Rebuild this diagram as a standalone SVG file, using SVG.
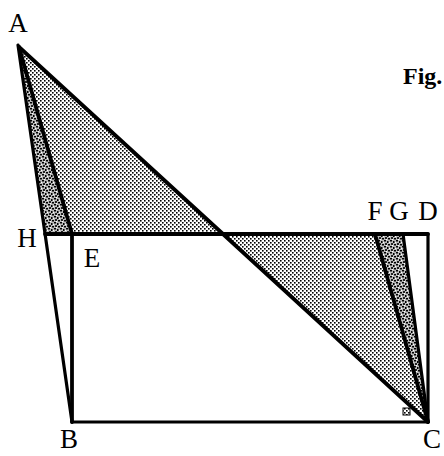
<svg xmlns="http://www.w3.org/2000/svg" width="444" height="456" viewBox="0 0 444 456">
<style>
.ln{stroke:#000;stroke-width:3.8;fill:none;stroke-linecap:round;stroke-linejoin:round}
.th{stroke-width:3.2}
.lbl{font-family:"Liberation Serif","Times New Roman",serif;font-size:27px;fill:#000}
.fig{font-family:"Liberation Serif","Times New Roman",serif;font-size:24px;font-weight:bold;fill:#000}
</style>
<defs>
<pattern id="dots" width="4" height="4" patternUnits="userSpaceOnUse">
<rect width="4" height="4" fill="#fff"/>
<rect x="0" y="0" width="1.6" height="1.6" fill="#000"/>
<rect x="2" y="2" width="1.6" height="1.6" fill="#000"/>
</pattern>
<pattern id="dark" width="6" height="6" patternUnits="userSpaceOnUse">
<rect width="6" height="6" fill="#bbb"/>
<rect x="0" y="0" width="2" height="1.5" fill="#000"/>
<rect x="3" y="1" width="1.5" height="2" fill="#000"/>
<rect x="1" y="3" width="2" height="2" fill="#222"/>
<rect x="4" y="4" width="2" height="1.5" fill="#000"/>
<rect x="5" y="2" width="1" height="1" fill="#fff"/>
<rect x="2" y="5" width="1" height="1" fill="#fff"/>
</pattern>
</defs>
<g id="shading">
<polygon points="19,47 72,234 223,234" fill="url(#dots)"/>
<polygon points="223,234 375,234 428,422" fill="url(#dots)"/>
<polygon points="19,47 45.4,234 72,234" fill="url(#dark)"/>
<polygon points="375,234 403,234 428,422" fill="url(#dark)"/>
<rect x="403" y="408" width="7" height="7" fill="url(#dots)" stroke="#000" stroke-width="1"/>
</g>
<g id="connectors">
<line class="ln th" x1="18" y1="45" x2="72" y2="422"/>
<line class="ln" x1="19" y1="47" x2="72" y2="234"/>
<line class="ln" x1="19" y1="47" x2="428" y2="422"/>
<line class="ln" x1="45" y1="234" x2="428" y2="234"/>
<line class="ln" x1="72" y1="234" x2="72" y2="422"/>
<line class="ln th" x1="72" y1="422" x2="428" y2="422"/>
<line class="ln th" x1="428" y1="234" x2="428" y2="422"/>
<line class="ln" x1="375" y1="234" x2="428" y2="422"/>
<line class="ln th" x1="403" y1="234" x2="428" y2="422"/>
</g>
<g id="labels">
<text class="lbl" x="18" y="32" text-anchor="middle">A</text>
<text class="lbl" x="27" y="247" text-anchor="middle">H</text>
<text class="lbl" x="92" y="267" text-anchor="middle">E</text>
<text class="lbl" x="69" y="448" text-anchor="middle">B</text>
<text class="lbl" x="432" y="448" text-anchor="middle">C</text>
<text class="lbl" x="375" y="220" text-anchor="middle">F</text>
<text class="lbl" x="399" y="220" text-anchor="middle">G</text>
<text class="lbl" x="428" y="220" text-anchor="middle">D</text>
<text class="fig" x="403" y="84">Fig.</text>
</g>
</svg>
